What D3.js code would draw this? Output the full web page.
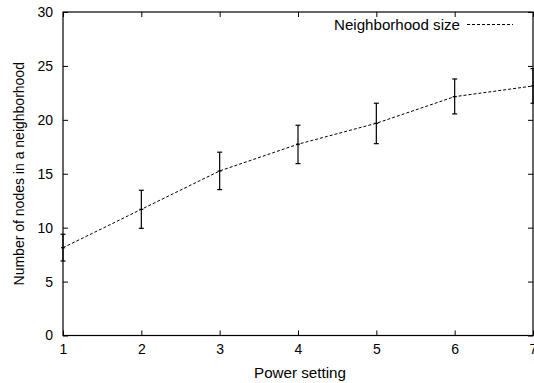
<!DOCTYPE html>
<html>
<head>
<meta charset="utf-8">
<script src="https://cdn.jsdelivr.net/npm/d3@7"></script>
<style>
  body { margin: 0; background: #fff; }
  svg text { font-family: "Liberation Sans", Arial, sans-serif; font-size: 14px; fill: #000; }
</style>
</head>
<body>
<div id="chart"></div>
<script>
// power settings and measured neighborhood sizes
const powerSettings = [1, 2, 3, 4, 5, 6, 7];
const meanSize = [8.14, 11.7, 15.26, 17.74, 19.68, 22.15, 23.14];
const lowSize = [6.91, 9.94, 13.53, 15.94, 17.79, 20.55, 21.54];
const highSize = [9.39, 13.47, 17.0, 19.5, 21.54, 23.79, 24.75];
const xTicks = [1, 2, 3, 4, 5, 6, 7];
const yTicks = [0, 5, 10, 15, 20, 25, 30];

const width = 534, height = 383;
const margin = { top: 12, right: 1, bottom: 47.5, left: 63 };
const innerW = width - margin.left - margin.right;
const innerH = height - margin.top - margin.bottom;

const svg = d3.select('#chart')
  .append('svg')
  .attr('width', width)
  .attr('height', height);

const g = svg.append('g')
  .attr('transform', `translate(${margin.left},${margin.top})`);

const x = d3.scaleLinear().domain([1, 7]).range([0, innerW]);
const y = d3.scaleLinear().domain([0, 30]).range([innerH, 0]);

// axes with inward ticks, mirrored on top and right
const tickLen = 5;
g.append('g')
  .attr('transform', `translate(0,${innerH})`)
  .call(d3.axisBottom(x).tickValues(xTicks).tickFormat(d3.format('d')).tickSizeInner(-tickLen).tickSizeOuter(0).tickPadding(9));
g.append('g')
  .call(d3.axisTop(x).tickValues(xTicks).tickFormat('').tickSizeInner(-tickLen).tickSizeOuter(0));
g.append('g')
  .call(d3.axisLeft(y).tickValues(yTicks).tickFormat(d3.format('d')).tickSizeInner(-tickLen).tickSizeOuter(0).tickPadding(10));
g.append('g')
  .attr('transform', `translate(${innerW},0)`)
  .call(d3.axisRight(y).tickValues(yTicks).tickFormat('').tickSizeInner(-tickLen).tickSizeOuter(0));

g.selectAll('.domain').remove();
g.selectAll('.tick line').attr('stroke', '#000');
g.selectAll('.tick text').style('font-size', '14px').attr('font-family', null);

// frame
g.append('rect')
  .attr('x', 0).attr('y', 0)
  .attr('width', innerW).attr('height', innerH)
  .attr('fill', 'none')
  .attr('stroke', '#000')
  .attr('stroke-width', 1.2);

const data = powerSettings.map((p, i) => ({ p, mean: meanSize[i], lo: lowSize[i], hi: highSize[i] }));

// dashed line
const line = d3.line().x(d => x(d.p)).y(d => y(d.mean));
g.append('path')
  .datum(data)
  .attr('d', line)
  .attr('fill', 'none')
  .attr('stroke', '#000')
  .attr('stroke-width', 1)
  .attr('stroke-dasharray', '3,2');

// error bars
const capW = 2.5;
const bars = g.selectAll('.err').data(data).enter().append('g').attr('class', 'err');
bars.append('line')
  .attr('x1', d => x(d.p)).attr('x2', d => x(d.p))
  .attr('y1', d => y(d.lo)).attr('y2', d => y(d.hi))
  .attr('stroke', '#000').attr('stroke-width', 1.2);
bars.append('line')
  .attr('x1', d => x(d.p) - capW).attr('x2', d => x(d.p) + capW)
  .attr('y1', d => y(d.lo)).attr('y2', d => y(d.lo))
  .attr('stroke', '#000').attr('stroke-width', 1.2);
bars.append('line')
  .attr('x1', d => x(d.p) - capW).attr('x2', d => x(d.p) + capW)
  .attr('y1', d => y(d.hi)).attr('y2', d => y(d.hi))
  .attr('stroke', '#000').attr('stroke-width', 1.2);
bars.append('line')
  .attr('x1', d => x(d.p) - 2).attr('x2', d => x(d.p) + 2)
  .attr('y1', d => y(d.mean)).attr('y2', d => y(d.mean))
  .attr('stroke', '#000').attr('stroke-width', 1.2);

// legend
g.append('text')
  .attr('x', 334 - margin.left)
  .attr('y', 29.5 - margin.top)
  .attr('textLength', 126)
  .attr('lengthAdjust', 'spacingAndGlyphs')
  .text('Neighborhood size');
g.append('line')
  .attr('x1', 467 - margin.left).attr('x2', 513 - margin.left)
  .attr('y1', 24.5 - margin.top).attr('y2', 24.5 - margin.top)
  .attr('stroke', '#000')
  .attr('stroke-width', 1)
  .attr('stroke-dasharray', '3,2');

// axis titles
svg.append('text')
  .attr('x', 254)
  .attr('y', 378)
  .attr('textLength', 92)
  .attr('lengthAdjust', 'spacingAndGlyphs')
  .text('Power setting');
svg.append('text')
  .attr('transform', `translate(24,${margin.top + innerH / 2}) rotate(-90)`)
  .attr('text-anchor', 'middle')
  .text('Number of nodes in a neighborhood');
</script>
</body>
</html>
